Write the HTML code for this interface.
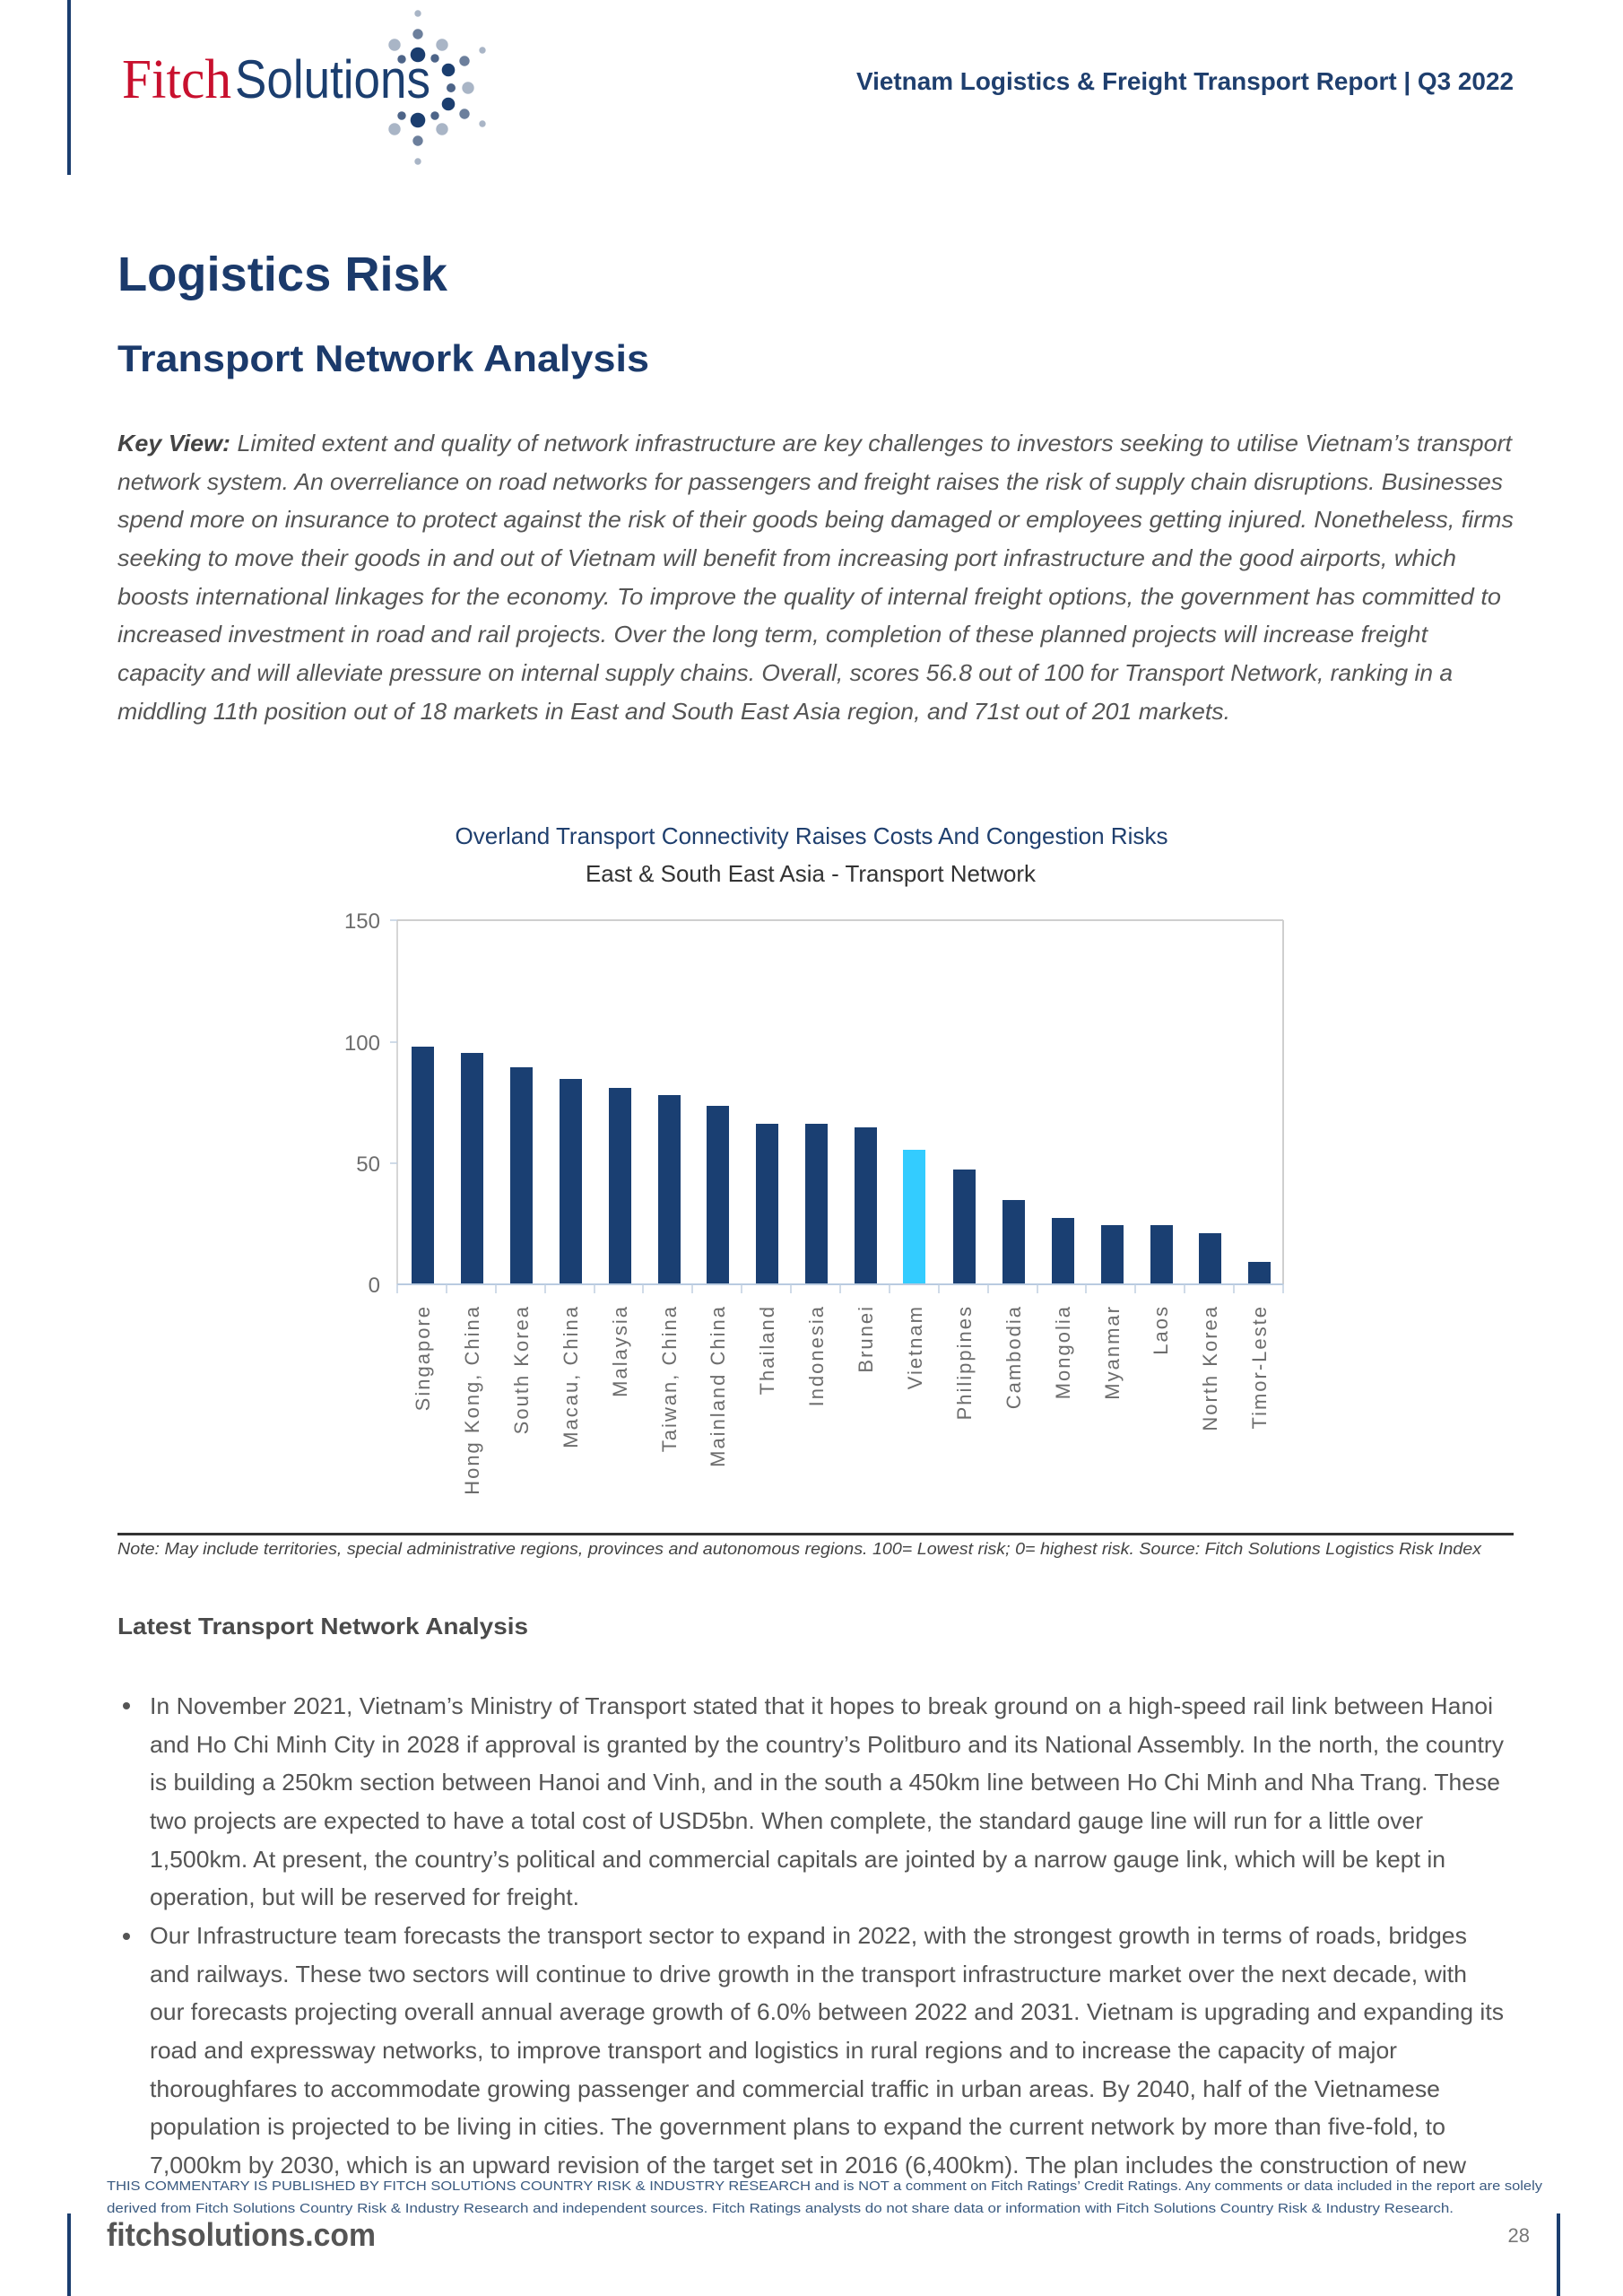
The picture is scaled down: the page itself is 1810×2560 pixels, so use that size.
<!DOCTYPE html>
<html><head><meta charset="utf-8"><style>
html,body{margin:0;padding:0;background:#fff;}
svg{display:block;}
text{font-family:"Liberation Sans",sans-serif;}
</style></head><body>
<svg width="1810" height="2560" viewBox="0 0 1810 2560" xmlns="http://www.w3.org/2000/svg">
<rect x="75" y="0" width="4" height="195" fill="#1b3e6f"/>
<text x="136" y="109" font-size="62" fill="#c8102e" textLength="122" lengthAdjust="spacingAndGlyphs" style="font-family:'Liberation Serif',serif">Fitch</text>
<text x="262" y="109" font-size="60" fill="#1b3e6f" textLength="218" lengthAdjust="spacingAndGlyphs">Solutions</text>
<g>
<circle cx="466" cy="15" r="3.7" fill="#a9b5c6"/>
<circle cx="466" cy="38" r="5.7" fill="#6c7f9c"/>
<circle cx="440" cy="50" r="6.7" fill="#a9b5c6"/>
<circle cx="466" cy="61" r="8.3" fill="#1b3e6f"/>
<circle cx="493" cy="50" r="6.7" fill="#a9b5c6"/>
<circle cx="448" cy="66" r="4.7" fill="#4d6488"/>
<circle cx="485" cy="65" r="4.7" fill="#4d6488"/>
<circle cx="538" cy="56" r="3.7" fill="#a9b5c6"/>
<circle cx="518" cy="68" r="5.7" fill="#6c7f9c"/>
<circle cx="500" cy="78" r="7.3" fill="#1b3e6f"/>
<circle cx="503" cy="98" r="5" fill="#4d6488"/>
<circle cx="522" cy="98" r="6.7" fill="#a9b5c6"/>
<circle cx="500" cy="116" r="7.3" fill="#1b3e6f"/>
<circle cx="518" cy="127" r="5.7" fill="#6c7f9c"/>
<circle cx="538" cy="138" r="3.7" fill="#a9b5c6"/>
<circle cx="448" cy="129" r="4.7" fill="#4d6488"/>
<circle cx="466" cy="134" r="8.3" fill="#1b3e6f"/>
<circle cx="485" cy="129" r="4.7" fill="#4d6488"/>
<circle cx="440" cy="144" r="6.7" fill="#a9b5c6"/>
<circle cx="493" cy="144" r="6.7" fill="#a9b5c6"/>
<circle cx="466" cy="157" r="5.7" fill="#6c7f9c"/>
<circle cx="466" cy="180" r="3.7" fill="#a9b5c6"/>
</g>
<text x="1688" y="100" font-size="28" font-weight="bold" fill="#1f3f6e" text-anchor="end" textLength="733" lengthAdjust="spacingAndGlyphs">Vietnam Logistics &amp; Freight Transport Report | Q3 2022</text>

<text x="131" y="324" font-size="54" font-weight="bold" fill="#1b3a6b" textLength="368" lengthAdjust="spacingAndGlyphs">Logistics Risk</text>
<text x="131" y="414" font-size="42" font-weight="bold" fill="#1b3a6b" textLength="593" lengthAdjust="spacingAndGlyphs">Transport Network Analysis</text>

<g font-size="26" font-style="italic" fill="#555">
<text x="131" y="503" textLength="1555" lengthAdjust="spacingAndGlyphs"><tspan font-weight="bold" fill="#444">Key View:</tspan> Limited extent and quality of network infrastructure are key challenges to investors seeking to utilise Vietnam’s transport</text>
<text x="131" y="546" textLength="1545" lengthAdjust="spacingAndGlyphs">network system. An overreliance on road networks for passengers and freight raises the risk of supply chain disruptions. Businesses</text>
<text x="131" y="588" textLength="1557" lengthAdjust="spacingAndGlyphs">spend more on insurance to protect against the risk of their goods being damaged or employees getting injured. Nonetheless, firms</text>
<text x="131" y="631" textLength="1493" lengthAdjust="spacingAndGlyphs">seeking to move their goods in and out of Vietnam will benefit from increasing port infrastructure and the good airports, which</text>
<text x="131" y="674" textLength="1543" lengthAdjust="spacingAndGlyphs">boosts international linkages for the economy. To improve the quality of internal freight options, the government has committed to</text>
<text x="131" y="716" textLength="1461" lengthAdjust="spacingAndGlyphs">increased investment in road and rail projects. Over the long term, completion of these planned projects will increase freight</text>
<text x="131" y="759" textLength="1489" lengthAdjust="spacingAndGlyphs">capacity and will alleviate pressure on internal supply chains. Overall, scores 56.8 out of 100 for Transport Network, ranking in a</text>
<text x="131" y="802" textLength="1241" lengthAdjust="spacingAndGlyphs">middling 11th position out of 18 markets in East and South East Asia region, and 71st out of 201 markets.</text>
</g>

<text x="905" y="941" font-size="26" fill="#1f3f6e" text-anchor="middle" textLength="795" lengthAdjust="spacingAndGlyphs">Overland Transport Connectivity Raises Costs And Congestion Risks</text>
<text x="904" y="983" font-size="26" fill="#333" text-anchor="middle" textLength="502" lengthAdjust="spacingAndGlyphs">East &amp; South East Asia - Transport Network</text>

<line x1="443" y1="1026" x2="1431" y2="1026" stroke="#cfcfcf" stroke-width="2"/>
<line x1="1431" y1="1026" x2="1431" y2="1432" stroke="#cfcfcf" stroke-width="2"/>
<line x1="443" y1="1026" x2="443" y2="1432" stroke="#c8c8c8" stroke-width="1.5"/>
<g stroke="#c0cfe0" stroke-width="1.5">
<line x1="435" y1="1026" x2="443" y2="1026"/><line x1="435" y1="1162" x2="443" y2="1162"/><line x1="435" y1="1297" x2="443" y2="1297"/>
</g>
<g font-size="24" fill="#6d6d6d" text-anchor="end">
<text x="424" y="1035">150</text><text x="424" y="1171">100</text><text x="424" y="1306">50</text><text x="424" y="1441">0</text>
</g>
<g fill="#1a3f72">
<rect x="459" y="1167" width="25" height="265"/>
<rect x="514" y="1174" width="25" height="258"/>
<rect x="569" y="1190" width="25" height="242"/>
<rect x="624" y="1203" width="25" height="229"/>
<rect x="679" y="1213" width="25" height="219"/>
<rect x="734" y="1221" width="25" height="211"/>
<rect x="788" y="1233" width="25" height="199"/>
<rect x="843" y="1253" width="25" height="179"/>
<rect x="898" y="1253" width="25" height="179"/>
<rect x="953" y="1257" width="25" height="175"/>
<rect x="1063" y="1304" width="25" height="128"/>
<rect x="1118" y="1338" width="25" height="94"/>
<rect x="1173" y="1358" width="25" height="74"/>
<rect x="1228" y="1366" width="25" height="66"/>
<rect x="1283" y="1366" width="25" height="66"/>
<rect x="1337" y="1375" width="25" height="57"/>
<rect x="1392" y="1407" width="25" height="25"/>
</g>
<rect x="1007" y="1282" width="25" height="150" fill="#33ccff"/>
<line x1="443" y1="1432" x2="1431" y2="1432" stroke="#b9cbe0" stroke-width="2"/>
<g stroke="#c0cfe0" stroke-width="1.5">
<line x1="443" y1="1432" x2="443" y2="1442"/><line x1="498" y1="1432" x2="498" y2="1442"/><line x1="553" y1="1432" x2="553" y2="1442"/><line x1="608" y1="1432" x2="608" y2="1442"/><line x1="663" y1="1432" x2="663" y2="1442"/><line x1="717" y1="1432" x2="717" y2="1442"/><line x1="772" y1="1432" x2="772" y2="1442"/><line x1="827" y1="1432" x2="827" y2="1442"/><line x1="882" y1="1432" x2="882" y2="1442"/><line x1="937" y1="1432" x2="937" y2="1442"/><line x1="992" y1="1432" x2="992" y2="1442"/><line x1="1047" y1="1432" x2="1047" y2="1442"/><line x1="1102" y1="1432" x2="1102" y2="1442"/><line x1="1157" y1="1432" x2="1157" y2="1442"/><line x1="1211" y1="1432" x2="1211" y2="1442"/><line x1="1266" y1="1432" x2="1266" y2="1442"/><line x1="1321" y1="1432" x2="1321" y2="1442"/><line x1="1376" y1="1432" x2="1376" y2="1442"/><line x1="1431" y1="1432" x2="1431" y2="1442"/>
</g>
<g font-size="22" fill="#6d6d6d" text-anchor="end" letter-spacing="2">
<text transform="translate(479,1455) rotate(-90)">Singapore</text>
<text transform="translate(534,1455) rotate(-90)">Hong Kong, China</text>
<text transform="translate(589,1455) rotate(-90)">South Korea</text>
<text transform="translate(644,1455) rotate(-90)">Macau, China</text>
<text transform="translate(699,1455) rotate(-90)">Malaysia</text>
<text transform="translate(754,1455) rotate(-90)">Taiwan, China</text>
<text transform="translate(808,1455) rotate(-90)">Mainland China</text>
<text transform="translate(863,1455) rotate(-90)">Thailand</text>
<text transform="translate(918,1455) rotate(-90)">Indonesia</text>
<text transform="translate(973,1455) rotate(-90)">Brunei</text>
<text transform="translate(1028,1455) rotate(-90)">Vietnam</text>
<text transform="translate(1083,1455) rotate(-90)">Philippines</text>
<text transform="translate(1138,1455) rotate(-90)">Cambodia</text>
<text transform="translate(1193,1455) rotate(-90)">Mongolia</text>
<text transform="translate(1248,1455) rotate(-90)">Myanmar</text>
<text transform="translate(1302,1455) rotate(-90)">Laos</text>
<text transform="translate(1357,1455) rotate(-90)">North Korea</text>
<text transform="translate(1412,1455) rotate(-90)">Timor-Leste</text>
</g>

<rect x="131" y="1709" width="1557" height="3" fill="#333"/>
<text x="131" y="1733" font-size="18" font-style="italic" fill="#444" textLength="1521" lengthAdjust="spacingAndGlyphs">Note: May include territories, special administrative regions, provinces and autonomous regions. 100= Lowest risk; 0= highest risk. Source: Fitch Solutions Logistics Risk Index</text>

<text x="131" y="1822" font-size="26" font-weight="bold" fill="#4a4a4a" textLength="458" lengthAdjust="spacingAndGlyphs">Latest Transport Network Analysis</text>

<g font-size="26" fill="#555">
<circle cx="141" cy="1902" r="4" fill="#555"/>
<circle cx="141" cy="2159" r="4" fill="#555"/>
<text x="167" y="1911" textLength="1498" lengthAdjust="spacingAndGlyphs">In November 2021, Vietnam’s Ministry of Transport stated that it hopes to break ground on a high-speed rail link between Hanoi</text>
<text x="167" y="1954" textLength="1510" lengthAdjust="spacingAndGlyphs">and Ho Chi Minh City in 2028 if approval is granted by the country’s Politburo and its National Assembly. In the north, the country</text>
<text x="167" y="1996" textLength="1506" lengthAdjust="spacingAndGlyphs">is building a 250km section between Hanoi and Vinh, and in the south a 450km line between Ho Chi Minh and Nha Trang. These</text>
<text x="167" y="2039" textLength="1420" lengthAdjust="spacingAndGlyphs">two projects are expected to have a total cost of USD5bn. When complete, the standard gauge line will run for a little over</text>
<text x="167" y="2082" textLength="1445" lengthAdjust="spacingAndGlyphs">1,500km. At present, the country’s political and commercial capitals are jointed by a narrow gauge link, which will be kept in</text>
<text x="167" y="2124" textLength="479" lengthAdjust="spacingAndGlyphs">operation, but will be reserved for freight.</text>
<text x="167" y="2167" textLength="1469" lengthAdjust="spacingAndGlyphs">Our Infrastructure team forecasts the transport sector to expand in 2022, with the strongest growth in terms of roads, bridges</text>
<text x="167" y="2210" textLength="1469" lengthAdjust="spacingAndGlyphs">and railways. These two sectors will continue to drive growth in the transport infrastructure market over the next decade, with</text>
<text x="167" y="2252" textLength="1510" lengthAdjust="spacingAndGlyphs">our forecasts projecting overall annual average growth of 6.0% between 2022 and 2031. Vietnam is upgrading and expanding its</text>
<text x="167" y="2295" textLength="1391" lengthAdjust="spacingAndGlyphs">road and expressway networks, to improve transport and logistics in rural regions and to increase the capacity of major</text>
<text x="167" y="2338" textLength="1439" lengthAdjust="spacingAndGlyphs">thoroughfares to accommodate growing passenger and commercial traffic in urban areas. By 2040, half of the Vietnamese</text>
<text x="167" y="2380" textLength="1445" lengthAdjust="spacingAndGlyphs">population is projected to be living in cities. The government plans to expand the current network by more than five-fold, to</text>
<text x="167" y="2423" textLength="1468" lengthAdjust="spacingAndGlyphs">7,000km by 2030, which is an upward revision of the target set in 2016 (6,400km). The plan includes the construction of new</text>
</g>

<text x="119" y="2442" font-size="15" fill="#3a5a80" textLength="1601" lengthAdjust="spacingAndGlyphs">THIS COMMENTARY IS PUBLISHED BY FITCH SOLUTIONS COUNTRY RISK &amp; INDUSTRY RESEARCH and is NOT a comment on Fitch Ratings’ Credit Ratings. Any comments or data included in the report are solely</text>
<text x="119" y="2467" font-size="15" fill="#3a5a80" textLength="1502" lengthAdjust="spacingAndGlyphs">derived from Fitch Solutions Country Risk &amp; Industry Research and independent sources. Fitch Ratings analysts do not share data or information with Fitch Solutions Country Risk &amp; Industry Research.</text>
<text x="119" y="2504" font-size="36" font-weight="bold" fill="#555" textLength="300" lengthAdjust="spacingAndGlyphs">fitchsolutions.com</text>
<text x="1706" y="2500" font-size="22" fill="#777" text-anchor="end">28</text>
<rect x="75" y="2468" width="4" height="92" fill="#1b3e6f"/>
<rect x="1736" y="2468" width="4" height="92" fill="#1b3e6f"/>
</svg>
</body></html>
